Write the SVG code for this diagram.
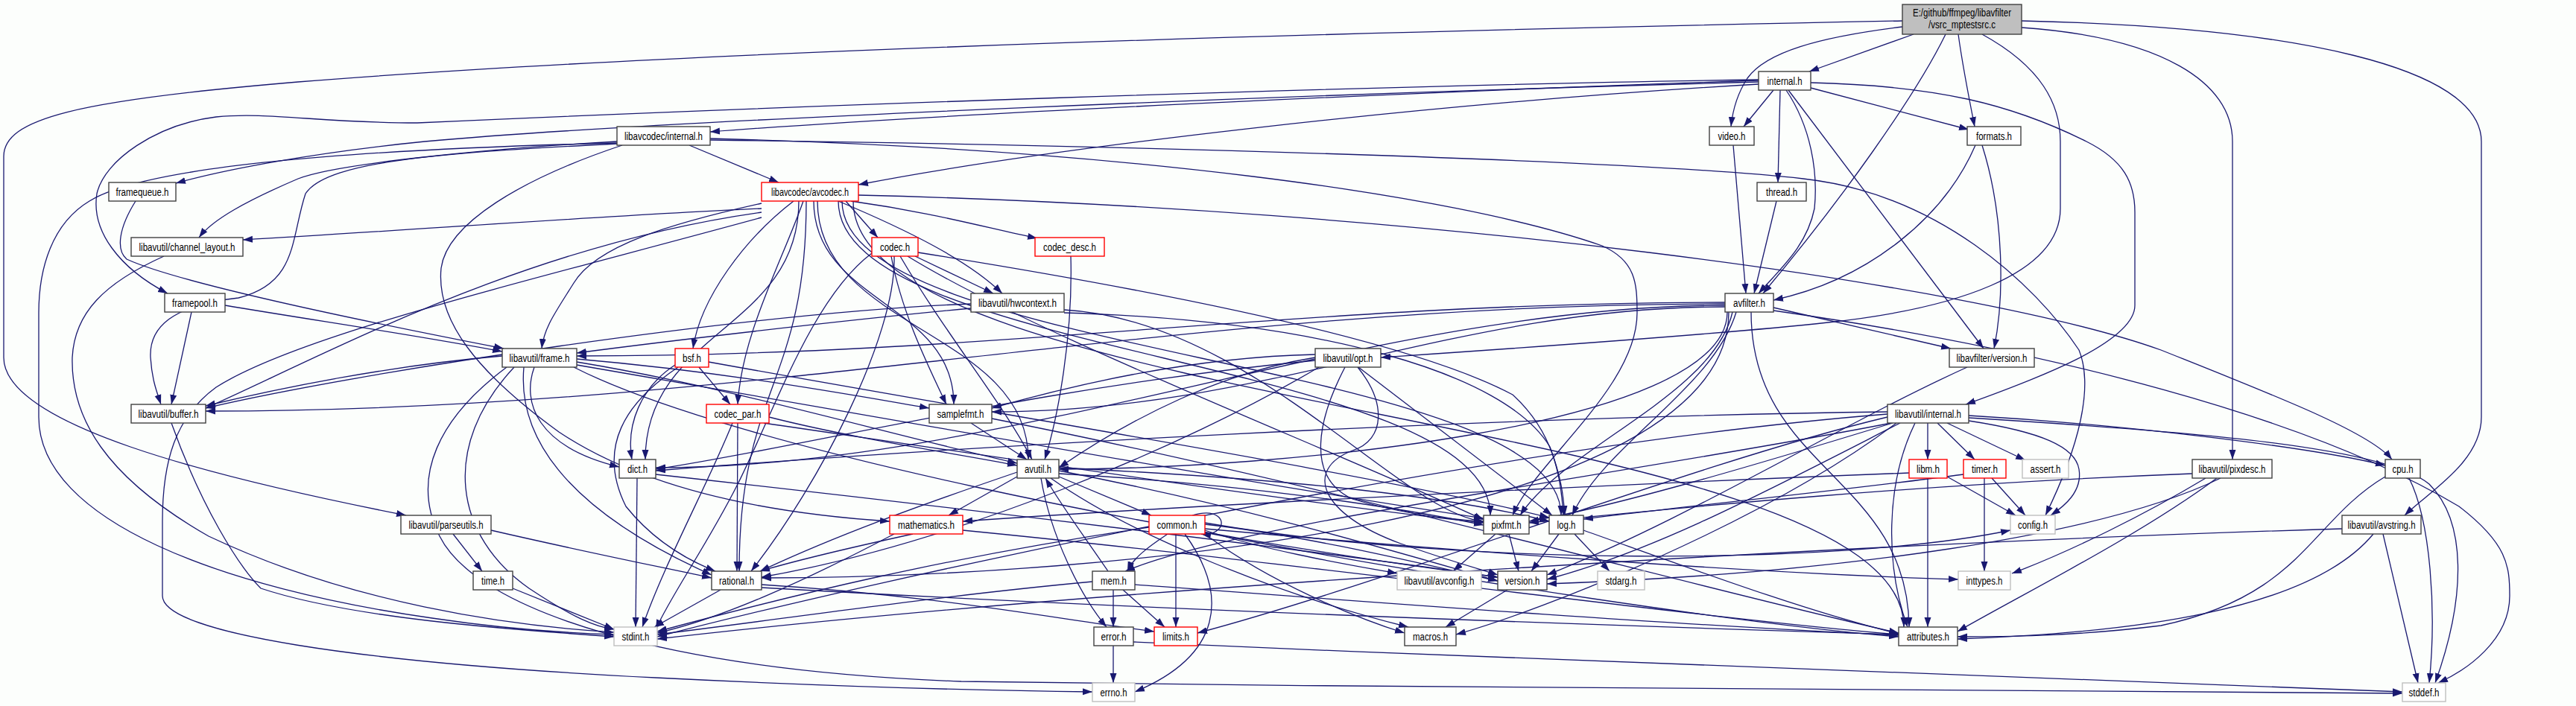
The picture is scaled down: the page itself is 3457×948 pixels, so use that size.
<svg xmlns="http://www.w3.org/2000/svg" width="3457" height="948" viewBox="0 0 3457 948">
<defs>
<marker id="a" markerUnits="userSpaceOnUse" markerWidth="14" markerHeight="10" refX="13" refY="5" orient="auto"><path d="M0,0.5 L13,5 L0,9.5 z" fill="#191970"/></marker>
<style>
.e path{fill:none;stroke:#191970;stroke-width:1.3;marker-end:url(#a)}
.n rect{fill:#fff;stroke:#404040;stroke-width:1.4}
.r rect{fill:#fff;stroke:#ff0000;stroke-width:1.4}
.g rect{fill:#fff;stroke:#bfbfbf;stroke-width:1.4}
.rt rect{fill:#bfbfbf;stroke:#404040;stroke-width:1.4}
text{font-family:"Liberation Sans",Arial,sans-serif;font-size:14px;text-anchor:middle;fill:#000}
</style>
</defs>
<rect x="0" y="0" width="3457" height="948" fill="#fcfefc"/>
<g id="edges" class="e">
<path d="M2568,46 L2428,96"/>
<path d="M2553,36 C2440,50 2370,70 2345,105 C2330,128 2325,150 2323,170"/>
<path d="M2611,46 C2570,130 2470,270 2366,394"/>
<path d="M2628,46 C2634,90 2642,130 2650,170"/>
<path d="M2660,46 C2740,90 2765,140 2765,190 L2765,280 C2765,370 2620,415 2453,433 C2300,450 2000,470 1853,480"/>
<path d="M2713,37 C2900,50 2996,110 2996,190 L2996,617"/>
<path d="M2713,28 C3080,36 3330,90 3330,190 L3330,560 C3330,620 3260,660 3227,692"/>
<path d="M2553,28 C1700,45 900,70 400,110 C100,135 5,160 5,210 L5,480 C5,570 280,640 545,692"/>
<path d="M2380,121 L2340,170"/>
<path d="M2389,121 L2386,245"/>
<path d="M2397,121 C2430,170 2440,230 2435,280 C2425,330 2390,360 2360,394"/>
<path d="M2400,121 L2662,468"/>
<path d="M2430,118 L2642,174"/>
<path d="M2430,111 C2600,115 2700,140 2800,190 C2850,215 2865,245 2865,285 L2865,410 C2865,460 2730,510 2638,543"/>
<path d="M2360,108 C2000,120 1300,150 953,177"/>
<path d="M2360,113 C1900,140 1400,200 1152,248"/>
<path d="M2360,110 C1800,125 900,160 570,190 C420,205 300,228 236,246"/>
<path d="M2360,107 C1800,115 1000,145 560,165 C430,165 360,150 290,157 C210,167 140,215 130,260 C122,310 160,360 225,394"/>
<path d="M2326,195 L2343,394"/>
<path d="M2651,195 C2610,290 2510,375 2380,403"/>
<path d="M2660,195 C2690,290 2690,400 2676,468"/>
<path d="M2384,270 L2354,394"/>
<path d="M2380,413 L2618,468"/>
<path d="M2380,417 C2750,470 3100,560 3300,680 C3365,730 3368,760 3368,800 C3368,860 3310,900 3272,917"/>
<path d="M2350,419 C2350,630 2560,640 2562,842"/>
<path d="M2318,419 C2318,577 1700,630 1421,630"/>
<path d="M2315,408 C1580,408 1020,552 276,552"/>
<path d="M2315,410 C1840,410 1360,628 880,628"/>
<path d="M2315,406 C1750,406 1340,478 774,478"/>
<path d="M2330,419 C2300,520 2150,600 2110,692"/>
<path d="M2315,412 C1950,412 1700,553 1331,553"/>
<path d="M2325,419 C2300,530 2100,600 2040,692"/>
<path d="M2320,419 C2320,700 1480,776 1022,776"/>
<path d="M1135,270 L1178,319"/>
<path d="M1142,270 C1250,285 1320,305 1392,320"/>
<path d="M1125,270 C1220,310 1300,350 1345,394"/>
<path d="M1065,270 C1000,320 940,400 930,468"/>
<path d="M1078,270 C1050,350 995,450 990,543"/>
<path d="M1072,270 C1072,443 866,444 866,617"/>
<path d="M1092,270 C1092,406 1280,407 1280,543"/>
<path d="M1097,270 C1097,443 1380,444 1380,617"/>
<path d="M1022,292 C700,380 400,450 290,520 C235,560 218,620 218,700 L218,800 C218,850 480,890 880,910 C1180,925 1380,928 1466,929"/>
<path d="M1022,285 C700,330 430,480 276,548"/>
<path d="M1022,280 C800,290 540,310 326,322"/>
<path d="M1022,273 C900,300 800,330 770,380 C745,420 730,440 727,468"/>
<path d="M1130,270 C1130,481 2095,481 2095,692"/>
<path d="M1125,270 C1125,481 2000,481 2000,692"/>
<path d="M1082,270 C1082,518 992,519 992,767"/>
<path d="M1145,270 C1145,556 2555,556 2555,842"/>
<path d="M1152,262 C1900,280 2650,380 2900,470 C3050,530 3180,580 3210,617"/>
<path d="M925,195 L1045,245"/>
<path d="M828,190 C650,200 450,220 400,240 C330,270 285,295 267,319"/>
<path d="M828,193 C600,205 440,215 410,260 C390,320 400,380 320,400 C230,410 200,440 202,480 C204,510 210,525 216,543"/>
<path d="M835,195 C700,240 600,300 592,360 C585,430 640,500 750,580 C870,660 1040,690 1194,700"/>
<path d="M953,186 C1500,200 1950,260 2150,330 C2195,350 2197,380 2197,420 C2197,520 2060,620 2030,692"/>
<path d="M953,188 C1500,195 2200,215 2420,240 C2600,260 2730,380 2790,470 C2810,520 2790,600 2745,692"/>
<path d="M828,192 C500,200 200,220 120,270 C70,300 52,360 52,420 L52,560 C52,700 300,790 580,830 C680,845 760,850 824,852"/>
<path d="M182,270 C160,305 155,335 170,348 C240,380 480,430 676,468"/>
<path d="M257,419 L230,543"/>
<path d="M302,410 C420,430 560,450 674,472"/>
<path d="M220,344 C140,380 100,420 97,480 C95,560 140,640 280,720 C470,810 680,840 824,849"/>
<path d="M230,568 C270,680 320,760 350,790 C470,830 680,845 824,855"/>
<path d="M1303,408 C1000,420 480,500 276,548"/>
<path d="M1303,414 C1130,430 880,460 774,474"/>
<path d="M1428,420 C1770,430 2020,500 2080,600 C2095,640 2098,665 2100,692"/>
<path d="M1428,416 C1680,430 1880,690 1991,700"/>
<path d="M1228,344 L1333,394"/>
<path d="M1196,344 C1210,420 1245,490 1270,543"/>
<path d="M1208,344 C1270,450 1345,540 1385,617"/>
<path d="M1170,340 C1090,400 1040,550 990,650 C950,730 900,800 880,845"/>
<path d="M1200,344 C1203,450 1100,650 1008,767"/>
<path d="M1232,339 C1490,380 1880,450 2030,530 C2085,580 2095,640 2098,692"/>
<path d="M1218,344 C1390,450 1780,600 1991,698"/>
<path d="M1437,344 C1440,450 1420,560 1402,617"/>
<path d="M938,493 L980,543"/>
<path d="M906,490 C860,520 840,570 848,617"/>
<path d="M910,493 C840,540 800,600 840,680 C880,730 930,755 960,767"/>
<path d="M951,486 C1360,560 1860,640 2079,695"/>
<path d="M990,568 L989,767"/>
<path d="M983,568 C950,650 890,760 862,842"/>
<path d="M1032,560 C1150,590 1290,610 1365,625"/>
<path d="M1025,568 C1380,620 1780,680 1991,702"/>
<path d="M674,478 C530,490 380,520 276,545"/>
<path d="M717,493 C700,540 720,600 831,627"/>
<path d="M690,493 C590,600 610,720 710,790 C770,830 800,842 824,845"/>
<path d="M703,493 C695,580 750,680 955,772"/>
<path d="M774,486 C980,520 1180,580 1365,622"/>
<path d="M774,482 C980,500 1140,530 1247,548"/>
<path d="M774,490 C1180,560 1680,650 1991,696"/>
<path d="M770,493 C980,600 1580,720 2010,775"/>
<path d="M680,493 C590,560 550,640 590,720 C640,820 890,900 1290,915 C1990,925 2790,928 3224,931"/>
<path d="M1823,493 L2083,692"/>
<path d="M1805,493 C1770,560 1750,640 1815,670 C1880,690 1940,697 1991,700"/>
<path d="M1822,493 C1860,540 1860,590 1815,605 C1750,630 1770,690 1880,730 C1950,755 1990,765 2010,772"/>
<path d="M1765,480 C1640,500 1520,560 1421,628"/>
<path d="M1765,484 C1390,520 1080,600 880,630"/>
<path d="M1770,493 C1590,600 1280,730 1022,775"/>
<path d="M1765,476 C1590,480 1430,520 1331,548"/>
<path d="M2640,493 C2470,570 2260,700 2076,772"/>
<path d="M1303,568 L1378,617"/>
<path d="M1331,562 C1780,650 2280,790 2548,850"/>
<path d="M2587,568 L2587,617"/>
<path d="M2600,568 L2650,617"/>
<path d="M2613,568 L2718,618"/>
<path d="M2642,565 C2740,580 2785,600 2790,630 C2795,660 2770,680 2752,692"/>
<path d="M2642,558 C2850,570 3100,600 3201,625"/>
<path d="M2642,561 C2950,580 3200,600 3260,650 C3310,700 3310,800 3268,917"/>
<path d="M2570,568 C2530,650 2530,760 2560,842"/>
<path d="M2533,560 C2280,620 1870,780 1607,850"/>
<path d="M2533,556 C1980,600 1170,780 882,855"/>
<path d="M2533,553 C1980,560 1280,600 880,632"/>
<path d="M2545,568 C2370,700 2070,820 1954,852"/>
<path d="M2538,568 C2170,640 1670,700 1510,767"/>
<path d="M2540,568 C2370,620 2170,680 2052,700"/>
<path d="M2550,568 C2370,660 2220,740 2076,778"/>
<path d="M855,642 L853,842"/>
<path d="M880,637 C1270,680 1770,740 2010,775"/>
<path d="M1365,640 L1273,692"/>
<path d="M1421,640 L1545,692"/>
<path d="M1397,642 C1410,720 1450,800 1485,842"/>
<path d="M1365,634 C1230,680 1120,720 1020,767"/>
<path d="M1421,632 C1670,680 1870,740 2010,780"/>
<path d="M1410,642 C1520,720 1720,800 1890,842"/>
<path d="M1421,628 C1670,640 1920,660 2079,700"/>
<path d="M1421,636 C1670,650 1870,680 1991,705"/>
<path d="M2587,642 L2587,842"/>
<path d="M2613,640 L2705,692"/>
<path d="M2562,635 C2170,650 1570,680 1292,700"/>
<path d="M2673,642 L2718,692"/>
<path d="M2663,642 L2663,767"/>
<path d="M2635,637 C2460,660 2260,680 2125,697"/>
<path d="M2960,642 C2880,690 2780,740 2700,770"/>
<path d="M2975,642 C2870,720 2710,800 2627,848"/>
<path d="M2942,636 C2580,650 2270,680 2052,702"/>
<path d="M2980,642 C2820,720 2470,770 2076,784"/>
<path d="M3233,642 C3262,700 3270,820 3260,917"/>
<path d="M3201,640 C3100,700 3090,800 2900,840 C2780,855 2680,855 2627,855"/>
<path d="M3198,717 L3245,917"/>
<path d="M3143,710 C2480,730 1470,790 882,858"/>
<path d="M3185,717 C3100,820 2860,850 2627,858"/>
<path d="M608,717 L647,767"/>
<path d="M659,712 C780,740 880,760 955,776"/>
<path d="M1225,717 C1120,740 1060,755 1020,767"/>
<path d="M1200,717 C1080,780 970,830 882,850"/>
<path d="M1292,712 C1780,760 2280,830 2548,852"/>
<path d="M1567,717 C1540,735 1520,750 1513,767"/>
<path d="M1578,717 L1578,842"/>
<path d="M1590,717 C1650,800 1640,880 1523,929"/>
<path d="M1600,692 C1635,682 1645,700 1636,710 C1628,718 1618,718 1612,717"/>
<path d="M1617,710 C1950,740 2360,770 2628,778"/>
<path d="M1542,708 C1260,750 1060,800 882,848"/>
<path d="M1617,715 C1950,780 2360,840 2548,855"/>
<path d="M1617,717 C1700,780 1820,830 1885,850"/>
<path d="M1617,704 C1760,720 1920,760 2010,780"/>
<path d="M1617,712 C1700,740 1820,760 1875,770"/>
<path d="M1617,702 C1950,760 2470,760 2698,712"/>
<path d="M2007,717 L1950,767"/>
<path d="M2025,717 L2038,767"/>
<path d="M2092,717 L2055,767"/>
<path d="M2113,717 L2160,767"/>
<path d="M2125,712 C2260,760 2420,820 2548,851"/>
<path d="M688,790 L824,845"/>
<path d="M967,792 L878,842"/>
<path d="M1022,785 C1260,800 1410,830 1549,848"/>
<path d="M1022,789 C1560,820 2160,840 2548,852"/>
<path d="M1494,792 L1494,842"/>
<path d="M1507,792 L1563,842"/>
<path d="M1487,767 C1455,720 1425,680 1403,642"/>
<path d="M1466,781 C1260,800 1060,830 882,852"/>
<path d="M1523,785 C1860,810 2260,840 2548,853"/>
<path d="M2023,792 L1940,842"/>
<path d="M1494,867 L1494,917"/>
<path d="M1521,862 C2160,890 2860,920 3224,929"/>
</g>
<g id="n0" class="rt"><rect x="2553" y="6" width="160" height="40"/><text x="2633" y="22" textLength="132" lengthAdjust="spacingAndGlyphs">E:/github/ffmpeg/libavfilter</text><text x="2633" y="38" textLength="90" lengthAdjust="spacingAndGlyphs">/vsrc_mptestsrc.c</text></g>
<g id="n1" class="n"><rect x="2360" y="96" width="70" height="25"/><text x="2395" y="113.5" textLength="47" lengthAdjust="spacingAndGlyphs">internal.h</text></g>
<g id="n2" class="n"><rect x="2294" y="170" width="60" height="25"/><text x="2324" y="187.5" textLength="37" lengthAdjust="spacingAndGlyphs">video.h</text></g>
<g id="n3" class="n"><rect x="2640" y="170" width="72" height="25"/><text x="2676" y="187.5" textLength="48" lengthAdjust="spacingAndGlyphs">formats.h</text></g>
<g id="n4" class="n"><rect x="828" y="170" width="125" height="25"/><text x="890.5" y="187.5" textLength="105" lengthAdjust="spacingAndGlyphs">libavcodec/internal.h</text></g>
<g id="n5" class="n"><rect x="2358" y="245" width="66" height="25"/><text x="2391" y="262.5" textLength="42" lengthAdjust="spacingAndGlyphs">thread.h</text></g>
<g id="n6" class="n"><rect x="146" y="245" width="90" height="25"/><text x="191" y="262.5" textLength="71" lengthAdjust="spacingAndGlyphs">framequeue.h</text></g>
<g id="n7" class="r"><rect x="1022" y="245" width="130" height="25"/><text x="1087" y="262.5" textLength="104" lengthAdjust="spacingAndGlyphs">libavcodec/avcodec.h</text></g>
<g id="n8" class="r"><rect x="1170" y="319" width="62" height="25"/><text x="1201" y="336.5" textLength="40" lengthAdjust="spacingAndGlyphs">codec.h</text></g>
<g id="n9" class="r"><rect x="1389" y="319" width="93" height="25"/><text x="1435.5" y="336.5" textLength="71" lengthAdjust="spacingAndGlyphs">codec_desc.h</text></g>
<g id="n10" class="n"><rect x="176" y="319" width="150" height="25"/><text x="251" y="336.5" textLength="129" lengthAdjust="spacingAndGlyphs">libavutil/channel_layout.h</text></g>
<g id="n11" class="n"><rect x="221" y="394" width="81" height="25"/><text x="261.5" y="411.5" textLength="61" lengthAdjust="spacingAndGlyphs">framepool.h</text></g>
<g id="n12" class="n"><rect x="1303" y="394" width="125" height="25"/><text x="1365.5" y="411.5" textLength="105" lengthAdjust="spacingAndGlyphs">libavutil/hwcontext.h</text></g>
<g id="n13" class="n"><rect x="2315" y="394" width="65" height="25"/><text x="2347.5" y="411.5" textLength="43" lengthAdjust="spacingAndGlyphs">avfilter.h</text></g>
<g id="n14" class="n"><rect x="674" y="468" width="100" height="25"/><text x="724" y="485.5" textLength="81" lengthAdjust="spacingAndGlyphs">libavutil/frame.h</text></g>
<g id="n15" class="r"><rect x="906" y="468" width="45" height="25"/><text x="928.5" y="485.5" textLength="25" lengthAdjust="spacingAndGlyphs">bsf.h</text></g>
<g id="n16" class="n"><rect x="1765" y="468" width="88" height="25"/><text x="1809" y="485.5" textLength="67" lengthAdjust="spacingAndGlyphs">libavutil/opt.h</text></g>
<g id="n17" class="n"><rect x="2616" y="468" width="114" height="25"/><text x="2673" y="485.5" textLength="95" lengthAdjust="spacingAndGlyphs">libavfilter/version.h</text></g>
<g id="n18" class="n"><rect x="176" y="543" width="100" height="25"/><text x="226" y="560.5" textLength="81" lengthAdjust="spacingAndGlyphs">libavutil/buffer.h</text></g>
<g id="n19" class="r"><rect x="948" y="543" width="84" height="25"/><text x="990" y="560.5" textLength="63" lengthAdjust="spacingAndGlyphs">codec_par.h</text></g>
<g id="n20" class="n"><rect x="1247" y="543" width="84" height="25"/><text x="1289" y="560.5" textLength="63" lengthAdjust="spacingAndGlyphs">samplefmt.h</text></g>
<g id="n21" class="n"><rect x="2533" y="543" width="109" height="25"/><text x="2587.5" y="560.5" textLength="89" lengthAdjust="spacingAndGlyphs">libavutil/internal.h</text></g>
<g id="n22" class="n"><rect x="831" y="617" width="49" height="25"/><text x="855.5" y="634.5" textLength="27" lengthAdjust="spacingAndGlyphs">dict.h</text></g>
<g id="n23" class="n"><rect x="1365" y="617" width="56" height="25"/><text x="1393" y="634.5" textLength="36" lengthAdjust="spacingAndGlyphs">avutil.h</text></g>
<g id="n24" class="r"><rect x="2562" y="617" width="51" height="25"/><text x="2587.5" y="634.5" textLength="31" lengthAdjust="spacingAndGlyphs">libm.h</text></g>
<g id="n25" class="r"><rect x="2635" y="617" width="57" height="25"/><text x="2663.5" y="634.5" textLength="35" lengthAdjust="spacingAndGlyphs">timer.h</text></g>
<g id="n26" class="g"><rect x="2714" y="617" width="62" height="25"/><text x="2745" y="634.5" textLength="41" lengthAdjust="spacingAndGlyphs">assert.h</text></g>
<g id="n27" class="n"><rect x="2942" y="617" width="107" height="25"/><text x="2995.5" y="634.5" textLength="90" lengthAdjust="spacingAndGlyphs">libavutil/pixdesc.h</text></g>
<g id="n28" class="n"><rect x="3201" y="617" width="47" height="25"/><text x="3224.5" y="634.5" textLength="28" lengthAdjust="spacingAndGlyphs">cpu.h</text></g>
<g id="n29" class="n"><rect x="538" y="692" width="121" height="25"/><text x="598.5" y="709.5" textLength="100" lengthAdjust="spacingAndGlyphs">libavutil/parseutils.h</text></g>
<g id="n30" class="r"><rect x="1194" y="692" width="98" height="25"/><text x="1243" y="709.5" textLength="76" lengthAdjust="spacingAndGlyphs">mathematics.h</text></g>
<g id="n31" class="r"><rect x="1542" y="692" width="75" height="25"/><text x="1579.5" y="709.5" textLength="54" lengthAdjust="spacingAndGlyphs">common.h</text></g>
<g id="n32" class="n"><rect x="1991" y="692" width="61" height="25"/><text x="2021.5" y="709.5" textLength="40" lengthAdjust="spacingAndGlyphs">pixfmt.h</text></g>
<g id="n33" class="n"><rect x="2079" y="692" width="46" height="25"/><text x="2102" y="709.5" textLength="25" lengthAdjust="spacingAndGlyphs">log.h</text></g>
<g id="n34" class="g"><rect x="2698" y="692" width="60" height="25"/><text x="2728" y="709.5" textLength="40" lengthAdjust="spacingAndGlyphs">config.h</text></g>
<g id="n35" class="n"><rect x="3143" y="692" width="106" height="25"/><text x="3196" y="709.5" textLength="91" lengthAdjust="spacingAndGlyphs">libavutil/avstring.h</text></g>
<g id="n36" class="n"><rect x="635" y="767" width="53" height="25"/><text x="661.5" y="784.5" textLength="31" lengthAdjust="spacingAndGlyphs">time.h</text></g>
<g id="n37" class="n"><rect x="955" y="767" width="67" height="25"/><text x="988.5" y="784.5" textLength="47" lengthAdjust="spacingAndGlyphs">rational.h</text></g>
<g id="n38" class="n"><rect x="1466" y="767" width="57" height="25"/><text x="1494.5" y="784.5" textLength="35" lengthAdjust="spacingAndGlyphs">mem.h</text></g>
<g id="n39" class="g"><rect x="1875" y="767" width="113" height="25"/><text x="1931.5" y="784.5" textLength="94" lengthAdjust="spacingAndGlyphs">libavutil/avconfig.h</text></g>
<g id="n40" class="n"><rect x="2010" y="767" width="66" height="25"/><text x="2043" y="784.5" textLength="47" lengthAdjust="spacingAndGlyphs">version.h</text></g>
<g id="n41" class="g"><rect x="2144" y="767" width="63" height="25"/><text x="2175.5" y="784.5" textLength="42" lengthAdjust="spacingAndGlyphs">stdarg.h</text></g>
<g id="n42" class="g"><rect x="2628" y="767" width="70" height="25"/><text x="2663" y="784.5" textLength="49" lengthAdjust="spacingAndGlyphs">inttypes.h</text></g>
<g id="n43" class="g"><rect x="824" y="842" width="58" height="25"/><text x="853" y="859.5" textLength="37" lengthAdjust="spacingAndGlyphs">stdint.h</text></g>
<g id="n44" class="n"><rect x="1468" y="842" width="53" height="25"/><text x="1494.5" y="859.5" textLength="34" lengthAdjust="spacingAndGlyphs">error.h</text></g>
<g id="n45" class="r"><rect x="1549" y="842" width="58" height="25"/><text x="1578" y="859.5" textLength="36" lengthAdjust="spacingAndGlyphs">limits.h</text></g>
<g id="n46" class="n"><rect x="1885" y="842" width="69" height="25"/><text x="1919.5" y="859.5" textLength="47" lengthAdjust="spacingAndGlyphs">macros.h</text></g>
<g id="n47" class="n"><rect x="2548" y="842" width="79" height="25"/><text x="2587.5" y="859.5" textLength="57" lengthAdjust="spacingAndGlyphs">attributes.h</text></g>
<g id="n48" class="g"><rect x="1466" y="917" width="57" height="25"/><text x="1494.5" y="934.5" textLength="36" lengthAdjust="spacingAndGlyphs">errno.h</text></g>
<g id="n49" class="g"><rect x="3224" y="917" width="58" height="25"/><text x="3253" y="934.5" textLength="41" lengthAdjust="spacingAndGlyphs">stddef.h</text></g>
</svg>
